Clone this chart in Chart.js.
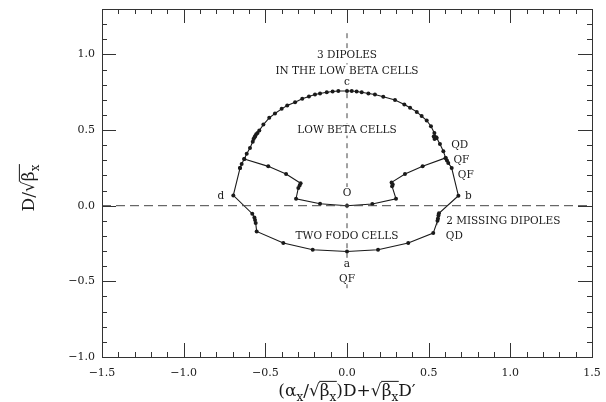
<!DOCTYPE html>
<html>
<head>
<meta charset="utf-8">
<script src="https://cdn.jsdelivr.net/npm/chart.js@4.4.1/dist/chart.umd.min.js"></script>
<style>
  html, body { margin: 0; padding: 0; background: #fff; }
</style>
</head>
<body>
<canvas id="c" width="606" height="402"></canvas>
<script>
// Normalized dispersion phase space, values as [x, y]

// low beta arc, left junction -> c -> right junction
const arcPts = [
  [-0.655, 0.249], [-0.645, 0.276], [-0.629, 0.309], [-0.614, 0.344], [-0.594, 0.382],
  [-0.577, 0.422], [-0.563, 0.459], [-0.572, 0.440], [-0.556, 0.472], [-0.566, 0.452],
  [-0.548, 0.480], [-0.537, 0.497], [-0.512, 0.536], [-0.476, 0.581], [-0.441, 0.609],
  [-0.400, 0.640], [-0.366, 0.662], [-0.318, 0.684], [-0.274, 0.707], [-0.233, 0.722],
  [-0.196, 0.735], [-0.165, 0.742], [-0.124, 0.750], [-0.088, 0.755], [-0.053, 0.758],
  [0.000, 0.758], [0.029, 0.758], [0.059, 0.755], [0.090, 0.750], [0.131, 0.742],
  [0.171, 0.735], [0.222, 0.720], [0.294, 0.698], [0.351, 0.669], [0.386, 0.647],
  [0.427, 0.620], [0.457, 0.592], [0.488, 0.563], [0.514, 0.525], [0.535, 0.481],
  [0.546, 0.452], [0.536, 0.440], [0.531, 0.458], [0.549, 0.448], [0.569, 0.408],
  [0.590, 0.360], [0.604, 0.316], [0.612, 0.298], [0.620, 0.283], [0.641, 0.249]
];

// two FODO cells with the missing dipoles, b -> a -> d
const fodoPts = [
  [0.682, 0.066], [0.563, -0.050], [0.560, -0.065], [0.557, -0.085], [0.554, -0.100],
  [0.528, -0.181], [0.375, -0.247], [0.190, -0.291], [0.000, -0.303], [-0.210, -0.291],
  [-0.390, -0.247], [-0.553, -0.170], [-0.559, -0.115], [-0.563, -0.095], [-0.567, -0.078],
  [-0.580, -0.053], [-0.696, 0.068]
];

// inner path through O, left junction -> right junction
const innerPts = [
  [-0.629, 0.309], [-0.482, 0.260], [-0.373, 0.210], [-0.284, 0.148], [-0.290, 0.133],
  [-0.298, 0.117], [-0.312, 0.046], [-0.165, 0.013], [0.000, 0.000], [0.155, 0.011],
  [0.300, 0.046], [0.276, 0.128], [0.280, 0.140], [0.273, 0.154], [0.355, 0.210],
  [0.463, 0.260], [0.604, 0.316]
];

// dashed reference axes
const zeroH = [[-1.5, 0], [1.5, 0]];
const zeroV = [[0, 1.14], [0, -0.57]];

// labelled ticks
const xMajor = [-1.5, -1.0, -0.5, 0.0, 0.5, 1.0, 1.5];
const yMajor = [-1.0, -0.5, 0.0, 0.5, 1.0];

// annotations [text, x, y]
const notes = [
  ['3 DIPOLES', 0, 1.0],
  ['IN THE LOW BETA CELLS', 0, 0.894],
  ['c', 0, 0.817],
  ['LOW BETA CELLS', 0, 0.503],
  ['O', 0, 0.084],
  ['d', -0.773, 0.068],
  ['b', 0.743, 0.066],
  ['TWO FODO CELLS', 0, -0.199],
  ['a', 0, -0.384],
  ['QF', 0, -0.48],
  ['QD', 0.69, 0.40],
  ['QF', 0.70, 0.303],
  ['QF', 0.727, 0.207],
  ['2 MISSING DIPOLES', 0.957, -0.099],
  ['QD', 0.657, -0.197]
];

const SERIF = '"DejaVu Serif", "Liberation Serif", serif';
const INK = '#1a1a1a';

const toXY = arr => arr.map(p => ({ x: p[0], y: p[1] }));
const outerLoop = toXY(arcPts.concat(fodoPts, [arcPts[0]]));

function tickText(majors) {
  return function (v) {
    const r = Math.round(v * 10) / 10;
    if (!majors.some(m => Math.abs(m - r) < 1e-6)) return '';
    return (r < -1e-9 ? '\u2212' : '') + Math.abs(r).toFixed(1);
  };
}

// rich text with subscripts and root bars, centred on x
function drawRich(ctx, parts, cx, cy, size) {
  const big = size + 'px ' + SERIF;
  const small = Math.round(size * 0.68) + 'px ' + SERIF;
  let w = 0;
  const laid = parts.map(p => {
    ctx.font = p.sub ? small : big;
    const pw = ctx.measureText(p.t).width;
    const item = { p, x: w, w: pw };
    w += pw;
    return item;
  });
  let x0 = cx - w / 2;
  ctx.textBaseline = 'alphabetic';
  ctx.textAlign = 'left';
  laid.forEach(it => {
    ctx.font = it.p.sub ? small : big;
    ctx.fillText(it.p.t, x0 + it.x, cy + (it.p.sub ? size * 0.28 : 0));
  });
  // overline for sqrt runs
  ctx.lineWidth = 1;
  let run = null;
  const flush = () => {
    if (!run) return;
    ctx.beginPath();
    ctx.moveTo(x0 + run.a - 0.5, cy - size * 0.86);
    ctx.lineTo(x0 + run.b + 0.5, cy - size * 0.86);
    ctx.stroke();
    run = null;
  };
  laid.forEach(it => {
    if (it.p.bar) {
      if (!run) run = { a: it.x, b: it.x + it.w };
      else run.b = it.x + it.w;
    } else flush();
  });
  flush();
}

const xTitle = [
  { t: '(\u03b1' }, { t: 'x', sub: true }, { t: '/\u221a' },
  { t: '\u03b2', bar: true }, { t: 'x', sub: true, bar: true },
  { t: ')D+\u221a' }, { t: '\u03b2', bar: true }, { t: 'x', sub: true, bar: true },
  { t: 'D\u2032' }
];
const yTitle = [
  { t: 'D/\u221a' }, { t: '\u03b2', bar: true }, { t: 'x', sub: true, bar: true }
];

const framePlugin = {
  id: 'frame',
  afterDatasetsDraw(chart) {
    const ctx = chart.ctx;
    const xs = chart.scales.x, ys = chart.scales.y;
    ctx.save();
    ctx.font = '10.5px ' + SERIF;
    ctx.textAlign = 'center';
    ctx.textBaseline = 'middle';
    notes.forEach(n => {
      const px = xs.getPixelForValue(n[1]);
      const py = ys.getPixelForValue(n[2]);
      const w = ctx.measureText(n[0]).width;
      ctx.fillStyle = '#fff';
      ctx.fillRect(px - w / 2 - 2, py - 6, w + 4, 12);
      ctx.fillStyle = INK;
      ctx.fillText(n[0], px, py + 0.5);
    });
    ctx.restore();
  },
  afterDraw(chart) {
    const ctx = chart.ctx;
    const a = chart.chartArea;
    const xs = chart.scales.x, ys = chart.scales.y;
    ctx.save();
    ctx.strokeStyle = '#333';
    ctx.lineWidth = 1;
    ctx.strokeRect(Math.round(a.left) + 0.5, Math.round(a.top) + 0.5,
      Math.round(a.right - a.left), Math.round(a.bottom - a.top));
    ctx.beginPath();
    xs.ticks.forEach(t => {
      const len = t.label !== '' ? 14 : 5;
      const px = Math.round(xs.getPixelForValue(t.value)) + 0.5;
      ctx.moveTo(px, a.bottom); ctx.lineTo(px, a.bottom - len);
      ctx.moveTo(px, a.top); ctx.lineTo(px, a.top + len);
    });
    ys.ticks.forEach(t => {
      const len = t.label !== '' ? 14 : 5;
      const py = Math.round(ys.getPixelForValue(t.value)) + 0.5;
      ctx.moveTo(a.left, py); ctx.lineTo(a.left + len, py);
      ctx.moveTo(a.right, py); ctx.lineTo(a.right - len, py);
    });
    ctx.stroke();

    ctx.fillStyle = INK;
    ctx.strokeStyle = INK;
    drawRich(ctx, xTitle, (a.left + a.right) / 2, 396, 17);
    ctx.translate(34, 188);
    ctx.rotate(-Math.PI / 2);
    drawRich(ctx, yTitle, 0, 0, 17);
    ctx.restore();
  }
};

const lineSet = (pts, dash, w, color) => ({
  data: pts, showLine: true, borderColor: color, borderWidth: w,
  borderDash: dash, pointRadius: 0, pointHoverRadius: 0
});
const curveSet = pts => ({
  data: pts, showLine: true, borderColor: INK, borderWidth: 1.1,
  pointRadius: 2, pointBackgroundColor: INK, pointBorderWidth: 0, pointHoverRadius: 0
});

new Chart(document.getElementById('c'), {
  type: 'scatter',
  data: {
    datasets: [
      lineSet(toXY(zeroH), [9, 5], 1, '#444'),
      lineSet(toXY(zeroV), [5, 5], 1, '#444'),
      curveSet(outerLoop),
      curveSet(toXY(innerPts))
    ]
  },
  options: {
    responsive: false,
    animation: false,
    devicePixelRatio: 1,
    layout: { padding: { top: 9, right: 14, left: 0, bottom: 0 } },
    plugins: { legend: { display: false }, tooltip: { enabled: false } },
    scales: {
      x: {
        type: 'linear', min: -1.5, max: 1.5,
        afterFit: s => { s.height = 45; s.paddingLeft = 0; s.paddingRight = 0; },
        grid: { display: false, drawTicks: false },
        border: { display: false },
        ticks: {
          stepSize: 0.1, autoSkip: false, maxRotation: 0, padding: 10,
          color: INK, font: { family: SERIF, size: 11 },
          callback: tickText(xMajor)
        }
      },
      y: {
        type: 'linear', min: -1.0, max: 1.3,
        afterFit: s => { s.width = 102; s.paddingTop = 0; s.paddingBottom = 0; },
        grid: { display: false, drawTicks: false },
        border: { display: false },
        ticks: {
          stepSize: 0.1, autoSkip: false, padding: 7,
          color: INK, font: { family: SERIF, size: 11 },
          callback: tickText(yMajor)
        }
      }
    }
  },
  plugins: [framePlugin]
});
</script>
</body>
</html>
